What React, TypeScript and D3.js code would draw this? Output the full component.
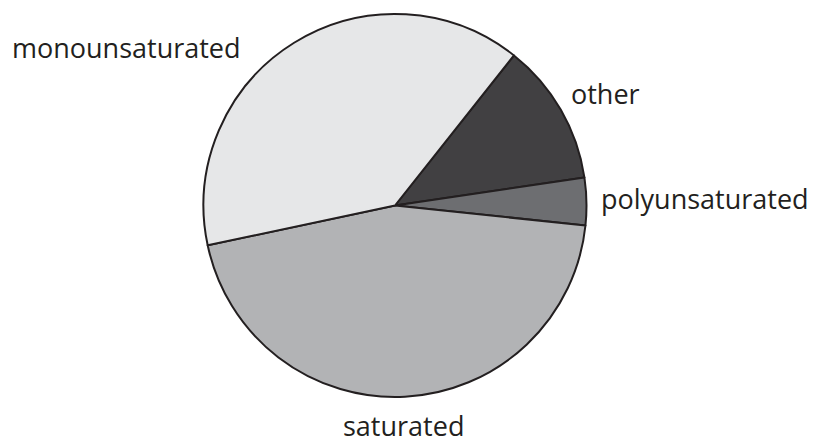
import React from "react";
import * as d3 from "d3";

const categories = ["other", "polyunsaturated", "saturated", "monounsaturated"];
const values = [12, 4, 45, 39];
const colors = ["#414042", "#6d6e71", "#b2b3b5", "#e6e7e8"];

// label layout (x of text start, baseline y)
const labelLayout: Record<string, { x: number; y: number }> = {
  other: { x: 571, y: 104 },
  polyunsaturated: { x: 601, y: 209 },
  saturated: { x: 343, y: 436 },
  monounsaturated: { x: 12, y: 58 },
};

const W = 821;
const H = 444;
const cx = 395;
const cy = 205.5;
const R = 191.5;

export default function App() {
  const data = categories.map((c, i) => ({ name: c, value: values[i], color: colors[i] }));
  const start = (38.4 * Math.PI) / 180;
  const pie = d3
    .pie<{ name: string; value: number; color: string }>()
    .sort(null)
    .value((d) => d.value)
    .startAngle(start)
    .endAngle(start + 2 * Math.PI);
  const arcs = pie(data);
  const arc = d3.arc<d3.PieArcDatum<any>>().innerRadius(0).outerRadius(R);
  return (
    <svg
      width={W}
      height={H}
      style={{ position: "absolute", left: 0, top: 0, background: "#fff" }}
    >
      <g transform={`translate(${cx},${cy})`}>
        {arcs.map((a) => (
          <path
            key={a.data.name}
            d={arc(a) as string}
            fill={a.data.color}
            stroke="#231f20"
            strokeWidth={2}
            strokeLinejoin="round"
          />
        ))}
      </g>
      {categories.map((c) => (
        <text
          key={c}
          x={labelLayout[c].x}
          y={labelLayout[c].y}
          fontFamily="'Open Sans', sans-serif"
          fontSize={27}
          fill="#231f20"
        >
          {c}
        </text>
      ))}
    </svg>
  );
}
